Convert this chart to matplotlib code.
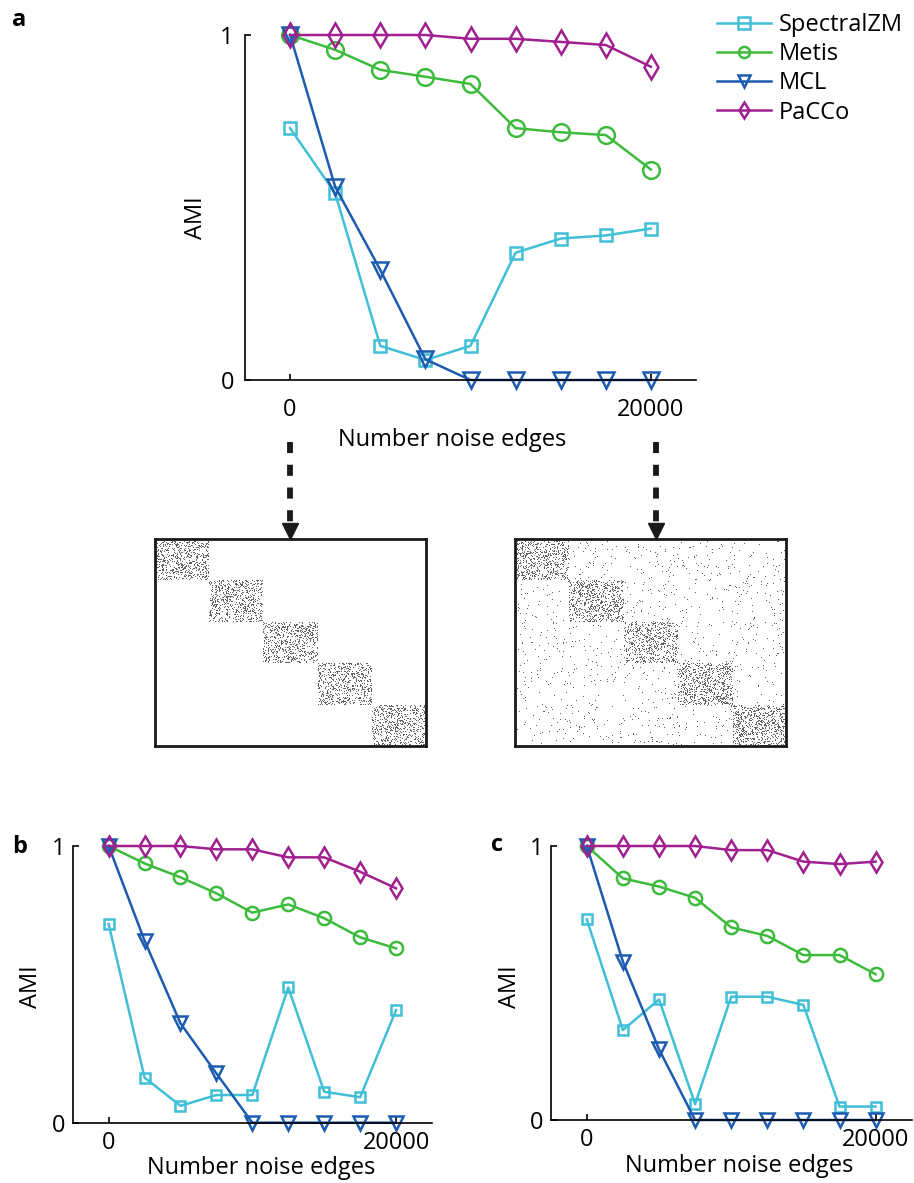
import numpy as np
import matplotlib
matplotlib.use("Agg")
import matplotlib.pyplot as plt
from matplotlib.colors import ListedColormap
from matplotlib.lines import Line2D

plt.rcParams['font.family'] = ['Open Sans', 'DejaVu Sans']

# noise edges (x axis)
noise = [0, 2500, 5000, 7500, 10000, 12500, 15000, 17500, 20000]

# panel a
a_spectral = [0.730, 0.541, 0.099, 0.058, 0.099, 0.369, 0.410, 0.419, 0.439]
a_metis = [1.0, 0.957, 0.899, 0.879, 0.858, 0.730, 0.718, 0.710, 0.610]
a_mcl = [1.0, 0.56, 0.319, 0.06, 0, 0, 0, 0, 0]
a_pacco = [1.0, 1.0, 1.0, 1.0, 0.989, 0.989, 0.980, 0.971, 0.908]

# panel b
b_spectral = [0.718, 0.163, 0.061, 0.10, 0.10, 0.489, 0.112, 0.092, 0.407]
b_metis = [1.0, 0.937, 0.887, 0.829, 0.759, 0.789, 0.739, 0.670, 0.630]
b_mcl = [1.0, 0.658, 0.359, 0.178, 0, 0, 0, 0, 0]
b_pacco = [1.0, 1.0, 1.0, 0.988, 0.988, 0.959, 0.959, 0.907, 0.847]

# panel c
c_spectral = [0.732, 0.328, 0.440, 0.058, 0.450, 0.450, 0.420, 0.049, 0.049]
c_metis = [1.0, 0.882, 0.852, 0.811, 0.703, 0.672, 0.602, 0.602, 0.532]
c_mcl = [1.0, 0.578, 0.258, 0, 0, 0, 0, 0, 0]
c_pacco = [1.0, 1.0, 1.0, 1.0, 0.985, 0.985, 0.943, 0.934, 0.943]

names = ['SpectralZM', 'Metis', 'MCL', 'PaCCo']
colors = ['#40bfd6', '#3dbb3d', '#1c5bb0', '#a0208f']
markers = ['s', 'o', 'v', 'd']

# adjacency matrix illustration
n_nodes = 1000
n_blocks = 5
block_density = 0.25
noise_edges_shown = [0, 20000]

W, H = 914, 1183
FS = 17
fig = plt.figure(figsize=(W / 100, H / 100), dpi=100)


def box(l, t, r, b):
    return [l / W, 1 - b / H, (r - l) / W, (b - t) / H]


def draw_panel(ax, series, msizes, xpad, ypad):
    for vals, c, m, ms in zip(series, colors, markers, msizes):
        ax.plot(noise, vals, color=c, marker=m, markersize=ms, markerfacecolor='none',
                markeredgewidth=1.8, linewidth=1.8, clip_on=False)
    ax.set_xlim(-2500, 22500)
    ax.set_ylim(0, 1)
    ax.set_xticks([0, 20000])
    ax.set_yticks([0, 1])
    ax.set_yticklabels(['0', '1'])
    for s in ['top', 'right']:
        ax.spines[s].set_visible(False)
    ax.spines['left'].set_linewidth(1.2)
    ax.spines['bottom'].set_linewidth(1.2)
    ax.tick_params(direction='in', length=4, width=1.2, labelsize=FS)
    ax.tick_params(axis='x', pad=xpad)
    ax.tick_params(axis='y', pad=ypad)


# panel a
ax_a = fig.add_axes(box(245, 35, 696, 380))
draw_panel(ax_a, [a_spectral, a_metis, a_mcl, a_pacco], [9, 12, 12, 12.5], 13, 8)
ax_a.set_xlabel('Number noise edges', fontsize=FS, va='center')
ax_a.xaxis.set_label_coords(0.459, -0.174)
ax_a.set_ylabel('AMI', fontsize=FS, va='center')
ax_a.yaxis.set_label_coords(-0.108, 0.47)

handles = [Line2D([], [], color=c, marker=m, markersize=8, markerfacecolor='none',
                  markeredgewidth=1.8, linewidth=1.8) for c, m in zip(colors, markers)]
fig.legend(handles, names, loc='upper left', bbox_to_anchor=(717 / W, 1 - 13 / H),
           frameon=False, fontsize=FS, handlelength=2.3, handletextpad=0.3,
           labelspacing=0.22, borderpad=0, borderaxespad=0)

# panel b
ax_b = fig.add_axes(box(72.7, 846, 432, 1122.7))
draw_panel(ax_b, [b_spectral, b_metis, b_mcl, b_pacco], [7.5, 9.5, 10, 10.5], 6, 5)
ax_b.set_xlabel('Number noise edges', fontsize=FS, va='center')
ax_b.xaxis.set_label_coords(0.524, -0.164)
ax_b.set_ylabel('AMI', fontsize=FS, va='center')
ax_b.yaxis.set_label_coords(-0.116, 0.49)

# panel c
ax_c = fig.add_axes(box(550.7, 846, 911.7, 1120))
draw_panel(ax_c, [c_spectral, c_metis, c_mcl, c_pacco], [7.5, 9.5, 10, 10.5], 6, 5)
ax_c.set_xlabel('Number noise edges', fontsize=FS, va='center')
ax_c.xaxis.set_label_coords(0.522, -0.168)
ax_c.set_ylabel('AMI', fontsize=FS, va='center')
ax_c.yaxis.set_label_coords(-0.113, 0.485)

# matrices
rng = np.random.default_rng(7)
size = n_nodes // n_blocks
cmap = ListedColormap(['white', '#626262'])
for left, n_noise in zip([155, 515], noise_edges_shown):
    mat = np.zeros((n_nodes, n_nodes))
    for k in range(n_blocks):
        sl = slice(k * size, (k + 1) * size)
        mat[sl, sl] = rng.random((size, size)) < block_density
    if n_noise:
        i = rng.integers(0, n_nodes, n_noise)
        j = rng.integers(0, n_nodes, n_noise)
        mat[i, j] = 1
    axm = fig.add_axes(box(left, 539, left + 271, 746))
    axm.imshow(mat, cmap=cmap, aspect='auto', interpolation='nearest')
    axm.set_xticks([])
    axm.set_yticks([])
    for s in axm.spines.values():
        s.set_linewidth(2)
        s.set_color('#1a1a1a')

# dashed arrows
for x in [290, 656]:
    fx = x / W
    fig.add_artist(Line2D([fx, fx], [1 - 442 / H, 1 - 526 / H], color='#1a1a1a',
                          linewidth=4.2, linestyle=(0, (1.9, 2.0))))
    fig.add_artist(Line2D([fx], [1 - 531 / H], color='#1a1a1a', marker='v',
                          markersize=11, linestyle='none'))

# panel letters
fig.text(12 / W, 1 - 26 / H, 'a', fontsize=FS, fontweight='bold')
fig.text(12 / W, 1 - 853 / H, 'b', fontsize=FS, fontweight='bold')
fig.text(491 / W, 1 - 851 / H, 'c', fontsize=FS, fontweight='bold')

fig.savefig('out.png', dpi=100)
